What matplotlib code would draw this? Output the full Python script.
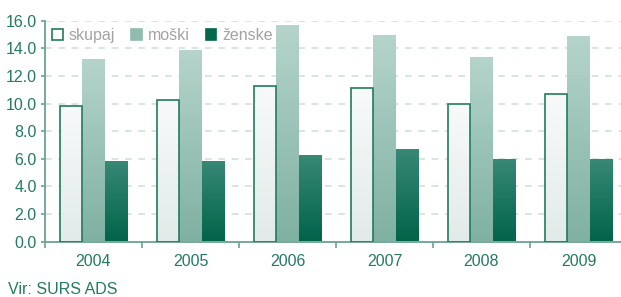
import matplotlib as mlp
mlp.use('Agg')
import matplotlib.pyplot as plt
import matplotlib.patches as patches
from matplotlib.colors import LinearSegmentedColormap
import numpy as np

# data
years = ['2004', '2005', '2006', '2007', '2008', '2009']
skupaj = [9.8, 10.25, 11.3, 11.1, 9.95, 10.7]
moski = [13.15, 13.8, 15.6, 14.9, 13.3, 14.8]
zenske = [5.75, 5.75, 6.2, 6.65, 5.9, 5.9]
series_names = ['skupaj', 'moški', 'ženske']

plt.rcParams['font.family'] = ['Liberation Sans', 'DejaVu Sans']

teal = '#237a60'
axis_col = '#6aa391'
grid_col = '#cfe1da'

# (top colour, bottom colour) per series
grads = [('#f8fafa', '#e2ebe9'), ('#b5d4cb', '#7fb1a2'), ('#378875', '#02644a')]
legend_cols = ['white', '#8fbcae', '#03684e']

fig = plt.figure(figsize=(6.21, 2.97), dpi=100)
ax = fig.add_axes([45 / 621, 55.5 / 297, 582 / 621, 220.8 / 297])

x = np.arange(len(years))
width = 0.23
offsets = [-0.23, 0.0, 0.23]

for k, vals in enumerate([skupaj, moski, zenske]):
    edge = teal if k == 0 else 'none'
    bars = ax.bar(x + offsets[k], vals, width, facecolor='none', edgecolor=edge,
                  linewidth=1.2 if k == 0 else 0, zorder=3)
    cmap = LinearSegmentedColormap.from_list('g%d' % k, [grads[k][1], grads[k][0]])
    grad = np.linspace(0, 1, 100).reshape(-1, 1)
    for b in bars:
        ax.imshow(grad, cmap=cmap, origin='lower', aspect='auto', zorder=2,
                  extent=[b.get_x(), b.get_x() + b.get_width(), 0, b.get_height()])

ax.set_xlim(-0.5, len(years) - 0.5)
ax.set_ylim(0, 16)

# grid
ax.set_yticks(np.arange(0, 16.1, 2))
ax.set_yticklabels(['%.1f' % v for v in np.arange(0, 16.1, 2)])
for v in np.arange(2, 16.1, 2):
    ax.axhline(v, color=grid_col, linestyle=(0, (4, 4)), linewidth=1.2, zorder=1)

ax.set_xticks(x)
ax.set_xticklabels(years)
ax.set_xticks(np.arange(-0.5, len(years)), minor=True)

for s in ['top', 'right']:
    ax.spines[s].set_visible(False)
for s in ['left', 'bottom']:
    ax.spines[s].set_color(axis_col)
    ax.spines[s].set_linewidth(1.3)

ax.tick_params(axis='y', colors=axis_col, labelcolor=teal, length=3, width=1.2,
               labelsize=11.5, pad=3)
ax.tick_params(axis='x', which='major', length=0, labelcolor=teal, labelsize=11.5, pad=9)
ax.tick_params(axis='x', which='minor', length=4, width=1.2, color=axis_col)

handles = [patches.Patch(facecolor=legend_cols[i], edgecolor=teal if i == 0 else legend_cols[i],
                         linewidth=1.2) for i in range(3)]
leg = ax.legend(handles, series_names, ncol=3, loc='upper left', frameon=False,
                bbox_to_anchor=(-0.004, 1.01), handlelength=0.65, handleheight=0.65,
                handletextpad=0.4, columnspacing=1.0, fontsize=11.5, borderaxespad=0.2)
leg.set_zorder(5)
for t in leg.get_texts():
    t.set_color('#a3a3a3')

fig.text(8 / 621, 1 - 290 / 297, 'Vir: SURS ADS', color=teal, fontsize=11.5,
         ha='left', va='center')

fig.savefig('out.png', dpi=100)
